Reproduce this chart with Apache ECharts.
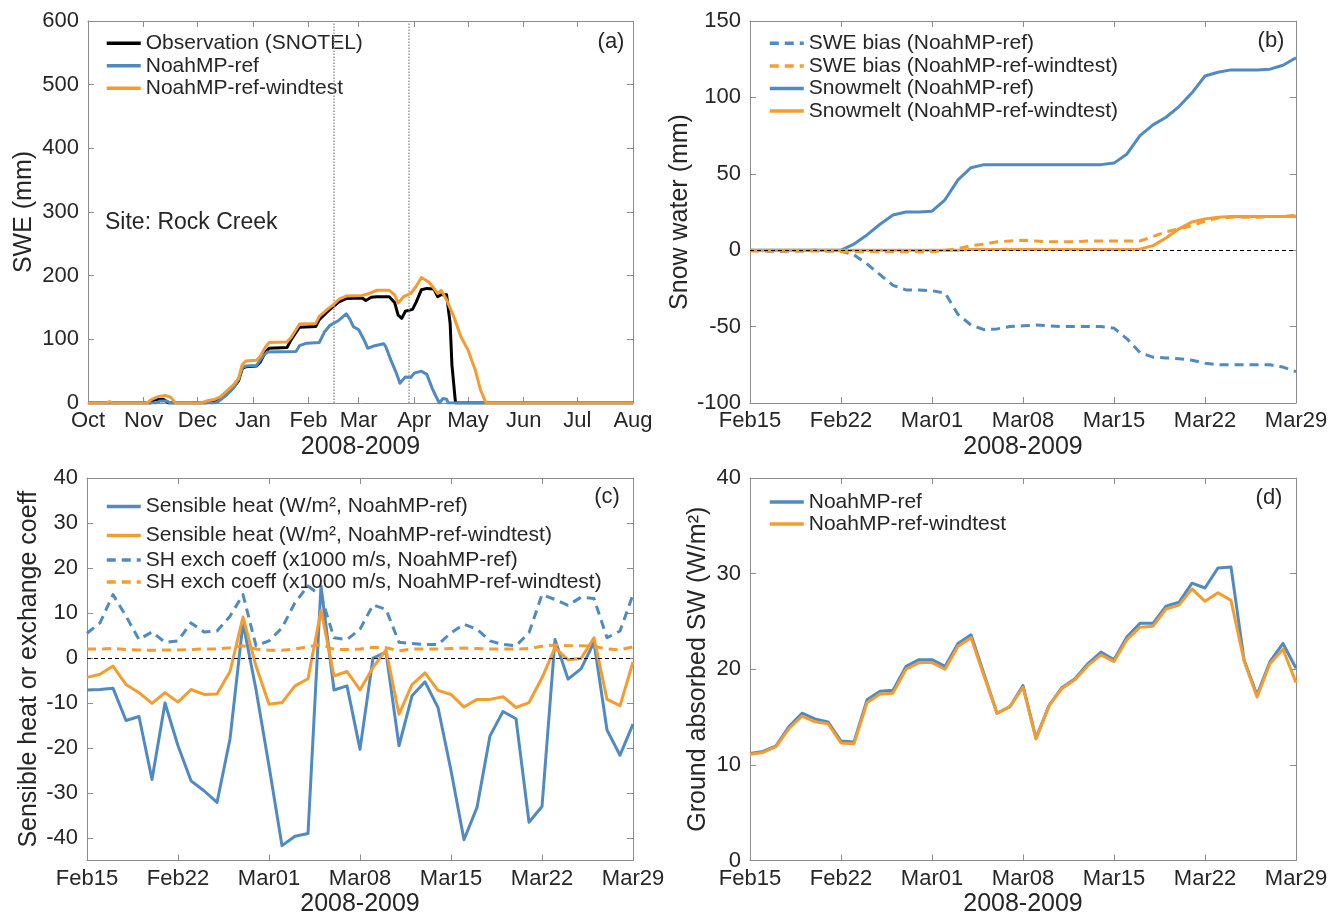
<!DOCTYPE html>
<html>
<head>
<meta charset="utf-8">
<title>Rock Creek SWE and energy terms, 2008-2009</title>
<script src="https://cdn.jsdelivr.net/npm/echarts@6/dist/echarts.min.js"></script>
<style>
  html, body { margin: 0; padding: 0; background: #ffffff; }
  #chart { width: 1342px; height: 918px; }
</style>
</head>
<body>
<div id="chart"></div>
<script>
// ---- Panel (a): seasonal SWE (mm), [date, value] pairs ----
const monthStarts = ['2008-10-01','2008-11-01','2008-12-01','2009-01-01','2009-02-01','2009-03-01',
                     '2009-04-01','2009-05-01','2009-06-01','2009-07-01','2009-08-01'];
const monthLabels = ['Oct','Nov','Dec','Jan','Feb','Mar','Apr','May','Jun','Jul','Aug'];
const windowDates = ['2009-02-15','2009-03-29'];

const sweObs = [
  ['2008-10-01',0],['2008-11-05',0],['2008-11-07',5],['2008-11-12',6],['2008-11-15',0],
  ['2008-12-05',0],['2008-12-10',2],['2008-12-14',6],['2008-12-17',13],['2008-12-21',24],
  ['2008-12-24',35],['2008-12-26',54],['2008-12-28',57],['2009-01-03',58],['2009-01-05',64],
  ['2009-01-08',80],['2009-01-10',86],['2009-01-20',87],['2009-01-22',98],['2009-01-25',111],
  ['2009-01-27',119],['2009-02-05',120],['2009-02-07',131],['2009-02-11',142],['2009-02-15',152],
  ['2009-02-18',159],['2009-02-22',164],['2009-03-03',165],['2009-03-05',161],['2009-03-08',166],
  ['2009-03-11',167],['2009-03-18',167],['2009-03-21',158],['2009-03-23',138],['2009-03-25',133],
  ['2009-03-27',144],['2009-03-31',147],['2009-04-02',158],['2009-04-05',178],['2009-04-08',180],
  ['2009-04-12',179],['2009-04-14',167],['2009-04-16',170],['2009-04-19',170],['2009-04-21',125],
  ['2009-04-22',60],['2009-04-24',0],['2009-08-01',0]
];
const sweRef = [
  ['2008-10-01',0],['2008-11-08',0],['2008-11-10',3],['2008-11-14',3],['2008-11-16',0],
  ['2008-12-11',0],['2008-12-13',3],['2008-12-17',12],['2008-12-21',23],['2008-12-24',37],
  ['2008-12-26',55],['2008-12-28',58],['2009-01-03',59],['2009-01-07',75],['2009-01-09',80],
  ['2009-01-25',81],['2009-01-27',90],['2009-01-31',94],['2009-02-07',95],['2009-02-10',112],
  ['2009-02-13',122],['2009-02-18',130],['2009-02-22',140],['2009-02-24',132],['2009-02-26',120],
  ['2009-03-01',115],['2009-03-04',99],['2009-03-06',86],['2009-03-10',90],['2009-03-15',93],
  ['2009-03-16',89],['2009-03-19',67],['2009-03-22',47],['2009-03-24',31],['2009-03-27',41],
  ['2009-03-30',40],['2009-04-01',47],['2009-04-05',50],['2009-04-08',45],['2009-04-11',23],
  ['2009-04-13',11],['2009-04-15',0],['2009-04-17',7],['2009-04-19',6],['2009-04-20',0],
  ['2009-08-01',0]
];
const sweWind = [
  ['2008-10-01',0],['2008-10-11',0],['2008-10-13',2],['2008-10-15',0],['2008-11-03',0],
  ['2008-11-05',5],['2008-11-09',10],['2008-11-13',12],['2008-11-16',9],['2008-11-19',0],
  ['2008-12-03',0],['2008-12-06',3],['2008-12-11',6],['2008-12-14',10],['2008-12-17',18],
  ['2008-12-21',28],['2008-12-24',39],['2008-12-26',60],['2008-12-28',66],['2009-01-03',67],
  ['2009-01-05',73],['2009-01-08',88],['2009-01-10',95],['2009-01-20',96],['2009-01-22',102],
  ['2009-01-25',115],['2009-01-27',124],['2009-02-05',125],['2009-02-07',136],['2009-02-11',146],
  ['2009-02-15',155],['2009-02-18',163],['2009-02-22',168],['2009-03-03',169],['2009-03-07',172],
  ['2009-03-11',177],['2009-03-18',177],['2009-03-21',170],['2009-03-23',157],['2009-03-26',167],
  ['2009-03-30',172],['2009-04-02',183],['2009-04-05',197],['2009-04-09',190],['2009-04-12',180],
  ['2009-04-14',172],['2009-04-16',177],['2009-04-19',162],['2009-04-23',136],['2009-04-27',104],
  ['2009-05-01',83],['2009-05-05',52],['2009-05-08',20],['2009-05-11',0],['2009-08-01',0]
];

// ---- Panels (b)-(d): daily values, Feb 15 to Mar 29 2009 (43 days) ----
const dayTickLabels = ['Feb15','Feb22','Mar01','Mar08','Mar15','Mar22','Mar29'];

// (b) snow water (mm)
const biasRef = [0,-0.5,-1,-0.5,-0.5,0,-0.5,-0.5,-3,-9,-16,-23,-26,-26,-26.5,-28,-42,-49,-52,-51.5,
  -50,-49.5,-49,-49.5,-50,-50,-50,-50,-51,-58,-67,-70,-70.5,-71,-72,-74,-75,-75,-75,-75,-75,-76.5,-79.5];
const biasWind = [-0.5,-0.5,-0.5,-0.5,-0.5,-0.5,-0.5,-1,-1,-1,-1,-1,-1,-1,-1,0,1,3,4,5.5,
  6,6.5,6,5.5,5.5,5.5,6,6,6,6,6,9,12,14,16,19,21,21.5,21.5,21.5,22,22,23];
const meltRef = [0,0,0,0,0,0,0,0,4,10,17,23,25,25,25.5,33,46,54,56,56,
  56,56,56,56,56,56,56,56,57,63,75,82,87,94,103,114,116.5,118,118,118,118.5,121,126];
const meltWind = [0,0,0,0,0,0,0,0,0,0,0,0,0,0,0,0,0,0.5,0.5,0.5,
  0.5,0.5,0.5,0.5,0.5,0.5,0.5,0.5,0.5,0.5,0.7,3,8,14,18.5,20.5,21.5,22,22,22,22,22,22];

// (c) sensible heat (W/m2) and exchange coefficient (x1000 m/s)
const shRef = [-7.1,-7,-6.7,-13.9,-13,-27,-10,-19.5,-27.3,-29.5,-32.1,-18,7.8,-7,-24,-41.7,-39.6,-39,16,-7.1,
  -6.2,-20.3,0,1.3,-19.5,-8.4,-5.3,-11,-25,-40.4,-33.2,-17.3,-11.9,-13.5,-36.5,-33,4.1,-4.7,-2.4,3.5,-16,-21.6,-14.7];
const shWind = [-4.3,-3.6,-1.8,-5.9,-7.7,-10.1,-7.7,-9.8,-7,-8.1,-8,-3,9.1,-1.8,-10.3,-9.9,-6.2,-4.6,10.6,-4,
  -3,-7.1,-2.1,1.8,-12.5,-5.9,-3.3,-7.2,-8.1,-10.9,-9.2,-9.2,-8.6,-11,-9.9,-4.4,2.3,-0.4,-0.1,4.5,-9.2,-10.6,-0.9];
const chRef = [5.5,7.8,14.1,9.3,4.1,5.8,3.5,3.8,7.8,5.8,6,9.3,14.1,2.7,3.8,6.7,12.3,16,13.8,4.5,
  4.1,6.4,11.8,10.8,3.5,3.2,3,3,5.6,7.5,6.4,3.8,3,2.7,5.6,14.1,13,11.7,13.5,13.2,4.5,6,14.1];
const chWind = [2,2,2.1,1.9,1.8,1.7,1.8,1.8,1.9,2,2,2.3,2.7,2,1.7,1.7,2,2.5,3,1.9,
  1.9,2,2.4,2.3,1.6,2,2,2,2.1,2.2,2.1,2,2,2,2.1,2.6,2.9,2.7,2.7,2.6,2,1.8,2.5];

// (d) ground absorbed shortwave (W/m2)
const swRef = [11.2,11.4,12,14,15.4,14.8,14.5,12.5,12.4,16.8,17.7,17.8,20.3,21,21,20.3,22.7,23.6,19.5,15.4,
  16.1,18.3,12.8,16.2,18.1,19,20.6,21.8,21,23.4,24.8,24.8,26.6,27,29,28.5,30.6,30.7,21,17.3,20.8,22.7,20.1];
const swWind = [11.1,11.3,11.9,13.8,15.1,14.5,14.3,12.3,12.2,16.5,17.4,17.5,20,20.7,20.7,20,22.4,23.3,19.3,15.4,
  16.1,18.1,12.7,16.2,18,18.9,20.4,21.5,20.8,23.1,24.4,24.5,26.3,26.7,28.4,27.1,28,27.2,20.9,17.1,20.6,22.1,18.6];

// ---- helpers ----
const FONT = '"Liberation Sans", Arial, Helvetica, sans-serif';
const TXT = '#262626';
const AXC = '#8c8c8c';
const BLUE = '#4f8ac2';
const ORANGE = '#f59c31';

const ORIGIN = Date.UTC(2008, 9, 1);
function dayOf(s) {
  const p = s.split('-');
  return (Date.UTC(+p[0], +p[1] - 1, +p[2]) - ORIGIN) / 864e5;
}
const monthDays = monthStarts.map(dayOf);
const toXY = arr => arr.map(p => [dayOf(p[0]), p[1]]);
const daily = arr => arr.map((v, i) => [i, v]);

const tickStyle = { inside: true, length: 6, lineStyle: { color: AXC, width: 1 } };
const lineAx = { show: true, onZero: false, lineStyle: { color: AXC, width: 1 } };
const lblStyle = { color: TXT, fontSize: 22, fontFamily: FONT };
const nameStyle = { color: TXT, fontSize: 25, fontFamily: FONT, verticalAlign: 'middle' };

function xPair(g, cfg) {
  const bottom = Object.assign({
    gridIndex: g, type: 'value', position: 'bottom',
    axisLine: lineAx, splitLine: { show: false },
    name: '2008-2009', nameLocation: 'middle', nameGap: 44, nameTextStyle: nameStyle
  }, cfg.base);
  bottom.axisTick = Object.assign({}, tickStyle, cfg.tick || {});
  bottom.axisLabel = Object.assign({ margin: 7 }, lblStyle, cfg.label || {});
  const top = Object.assign({
    gridIndex: g, type: 'value', position: 'top',
    axisLine: lineAx, splitLine: { show: false }, axisLabel: { show: false }
  }, cfg.base);
  top.axisTick = Object.assign({}, tickStyle, cfg.tick || {});
  return [bottom, top];
}
function yPair(g, cfg) {
  const left = Object.assign({
    gridIndex: g, type: 'value', position: 'left',
    axisLine: lineAx, splitLine: { show: false },
    name: cfg.name, nameLocation: 'middle', nameGap: cfg.nameGap, nameRotate: 90,
    nameTextStyle: nameStyle
  }, cfg.base);
  left.axisTick = Object.assign({}, tickStyle, cfg.tick || {});
  left.axisLabel = Object.assign({ margin: 9 }, lblStyle, cfg.label || {});
  const right = Object.assign({
    gridIndex: g, type: 'value', position: 'right',
    axisLine: lineAx, splitLine: { show: false }, axisLabel: { show: false }
  }, cfg.base);
  right.axisTick = Object.assign({}, tickStyle, cfg.tick || {});
  return [left, right];
}

const dayAxisCfg = {
  base: { min: 0, max: 42, interval: 7 },
  label: { formatter: v => dayTickLabels[Math.round(v / 7)] }
};
const shTicks = [-40, -30, -20, -10, 0, 10, 20, 30, 40];

const xAxes = [].concat(
  xPair(0, {
    base: { min: 0, max: dayOf('2009-08-01') },
    tick: { customValues: monthDays },
    label: { customValues: monthDays, formatter: v => monthLabels[monthDays.indexOf(v)] }
  }),
  xPair(1, dayAxisCfg),
  xPair(2, dayAxisCfg),
  xPair(3, dayAxisCfg)
);
const yAxes = [].concat(
  yPair(0, { name: 'SWE (mm)', nameGap: 64, base: { min: 0, max: 600, interval: 100 } }),
  yPair(1, { name: 'Snow water (mm)', nameGap: 60, base: { min: -100, max: 150, interval: 50 } }),
  yPair(2, { name: 'Sensible heat or exchange coeff', nameGap: 58,
             base: { min: -45, max: 40 },
             tick: { customValues: shTicks }, label: { customValues: shTicks } }),
  yPair(3, { name: 'Ground absorbed SW (W/m\u00B2)', nameGap: 52, base: { min: 0, max: 40, interval: 10 } })
);

function line(name, g, data, color, dashed, z, extra) {
  return Object.assign({
    name, type: 'line', xAxisIndex: 2 * g, yAxisIndex: 2 * g, data,
    symbol: 'none', showSymbol: false, silent: true, z,
    itemStyle: { color },
    lineStyle: { color, width: 3, type: dashed ? [9, 6] : 'solid', join: 'round', cap: 'butt' }
  }, extra || {});
}
// thin dashed reference line at zero, kept above the curves
const zeroLine = {
  silent: true, symbol: 'none', z: 20, label: { show: false },
  lineStyle: { color: '#000', width: 1, type: [4, 3] },
  data: [{ yAxis: 0 }]
};

const series = [
  // (a)
  line('Observation (SNOTEL)', 0, toXY(sweObs), '#000000', false, 3, {
    markLine: {
      silent: true, symbol: 'none', label: { show: false },
      lineStyle: { color: '#9a9a9a', width: 1.5, type: 'dotted' },
      data: windowDates.map(d => ({ xAxis: dayOf(d) }))
    }
  }),
  line('NoahMP-ref', 0, toXY(sweRef), BLUE, false, 4),
  line('NoahMP-ref-windtest', 0, toXY(sweWind), ORANGE, false, 5),
  // (b)
  line('SWE bias (NoahMP-ref)', 1, daily(biasRef), BLUE, true, 3),
  line('SWE bias (NoahMP-ref-windtest)', 1, daily(biasWind), ORANGE, true, 4),
  line('Snowmelt (NoahMP-ref)', 1, daily(meltRef), BLUE, false, 5),
  line('Snowmelt (NoahMP-ref-windtest)', 1, daily(meltWind), ORANGE, false, 6, { markLine: zeroLine }),
  // (c)
  line('Sensible heat (W/m\u00B2, NoahMP-ref)', 2, daily(shRef), BLUE, false, 3),
  line('Sensible heat (W/m\u00B2, NoahMP-ref-windtest)', 2, daily(shWind), ORANGE, false, 4),
  line('SH exch coeff (x1000 m/s, NoahMP-ref)', 2, daily(chRef), BLUE, true, 5),
  line('SH exch coeff (x1000 m/s, NoahMP-ref-windtest)', 2, daily(chWind), ORANGE, true, 6, { markLine: zeroLine }),
  // (d)
  line('NoahMP-ref', 3, daily(swRef), BLUE, false, 3),
  line('NoahMP-ref-windtest', 3, daily(swWind), ORANGE, false, 4)
];

// vertical legend whose rows are rowH apart, first row centred at top + rowH/2
function legend(names, left, top, rowH) {
  return {
    data: names, orient: 'vertical', left, top, padding: 0,
    itemWidth: 34, itemHeight: 12, itemGap: 0, selectedMode: false,
    itemStyle: { opacity: 0 },
    lineStyle: { width: 3.5 },
    textStyle: { color: TXT, fontSize: 21, fontFamily: FONT, lineHeight: rowH }
  };
}

function tag(text, x, y, size) {
  return {
    type: 'text', x, y, silent: true,
    style: { text, fill: TXT, font: (size || 22) + 'px ' + FONT, textAlign: 'center', textVerticalAlign: 'middle' }
  };
}

const option = {
  backgroundColor: '#ffffff',
  animation: false,
  grid: [
    { left: 88, top: 21, width: 545, height: 382 },
    { left: 750, top: 21, width: 546, height: 382 },
    { left: 87, top: 478, width: 546, height: 383 },
    { left: 750, top: 478, width: 546, height: 383 }
  ],
  xAxis: xAxes,
  yAxis: yAxes,
  legend: [
    legend(['Observation (SNOTEL)', 'NoahMP-ref', 'NoahMP-ref-windtest'], 105, 32, 22.5),
    legend(['SWE bias (NoahMP-ref)', 'SWE bias (NoahMP-ref-windtest)',
            'Snowmelt (NoahMP-ref)', 'Snowmelt (NoahMP-ref-windtest)'], 768, 32, 22.6),
    legend(['Sensible heat (W/m\u00B2, NoahMP-ref)', 'Sensible heat (W/m\u00B2, NoahMP-ref-windtest)'], 105, 492, 29),
    legend(['SH exch coeff (x1000 m/s, NoahMP-ref)', 'SH exch coeff (x1000 m/s, NoahMP-ref-windtest)'], 105, 549, 22),
    legend(['NoahMP-ref', 'NoahMP-ref-windtest'], 768, 491, 22)
  ],
  graphic: [
    tag('(a)', 611, 42),
    tag('(b)', 1271, 41),
    tag('(c)', 607, 497),
    tag('(d)', 1269, 498),
    { type: 'text', x: 105, y: 223, silent: true,
      style: { text: 'Site: Rock Creek', fill: TXT, font: '23px ' + FONT, textAlign: 'left', textVerticalAlign: 'middle' } }
  ],
  series
};

const chart = echarts.init(document.getElementById('chart'), null, { renderer: 'canvas' });
chart.setOption(option);
</script>
</body>
</html>
